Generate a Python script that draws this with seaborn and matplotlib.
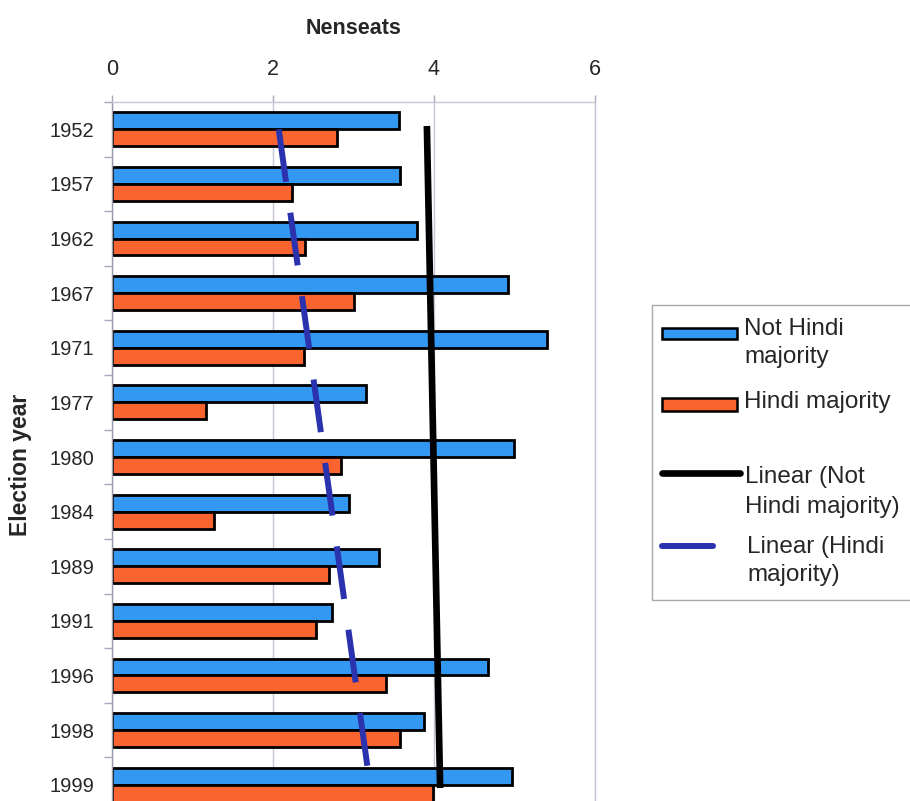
import numpy as np
import pandas as pd
import matplotlib
matplotlib.use("Agg")
import matplotlib.pyplot as plt
from matplotlib.patches import Rectangle
from matplotlib.lines import Line2D
import seaborn as sns

# Effective number of parties (seats) by election year
years = ["1952", "1957", "1962", "1967", "1971", "1977", "1980",
         "1984", "1989", "1991", "1996", "1998", "1999"]
not_hindi = [3.57, 3.58, 3.79, 4.92, 5.40, 3.16, 4.99,
             2.94, 3.32, 2.73, 4.67, 3.88, 4.97]
hindi = [2.79, 2.24, 2.40, 3.00, 2.39, 1.17, 2.84,
         1.27, 2.69, 2.53, 3.40, 3.58, 3.99]
series_names = ["Not Hindi majority", "Hindi majority"]
x_ticks = [0, 2, 4, 6]

BLUE = "#3398F2"
ORANGE = "#F9642F"
TREND_BLUE = "#2A32AE"
GRID = "#C6C6D6"

sns.set_style("white")
plt.rcParams["font.family"] = ["Liberation Sans", "DejaVu Sans"]

df = pd.DataFrame({
    "year": years * 2,
    "value": not_hindi + hindi,
    "group": [series_names[0]] * len(years) + [series_names[1]] * len(years),
})

W, H = 910, 801
fig = plt.figure(figsize=(W / 100, H / 100), dpi=100)
ax = fig.add_axes([112 / W, 1 - 812 / H, 483 / W, 710 / H])

sns.barplot(data=df, y="year", x="value", hue="group", order=years,
            hue_order=series_names, palette=[BLUE, ORANGE], orient="h",
            width=0.62, edgecolor="black", linewidth=2, saturation=1,
            legend=False, ax=ax, zorder=2)

# Linear trend lines over the category index
idx = np.arange(len(years))
fit_nh = np.polyval(np.polyfit(idx, not_hindi, 1), idx)
fit_h = np.polyval(np.polyfit(idx, hindi, 1), idx)
ax.plot(fit_nh, idx, color="black", lw=4.8, solid_capstyle="projecting", zorder=4)
ax.plot(fit_h, idx, color=TREND_BLUE, lw=4.3, dashes=(8.9, 5.2),
        dash_capstyle="butt", zorder=4)

# Axes styling
ax.set_xlim(0, 6)
ax.set_ylim(len(years) - 0.5, -0.5)
ax.xaxis.tick_top()
ax.xaxis.set_label_position("top")
ax.set_xticks(x_ticks)
ax.set_xticklabels([str(t) for t in x_ticks], fontsize=15.5)
ax.tick_params(axis="x", which="major", direction="out", length=5,
               width=1, color="#A8A8B8", pad=11)
ax.set_yticks(idx)
ax.set_yticklabels(years, fontsize=14.5)
ax.set_yticks(np.arange(-0.5, len(years), 1), minor=True)
ax.tick_params(axis="y", which="major", length=0, pad=13)
ax.tick_params(axis="y", which="minor", direction="out", length=6,
               width=1, color="#A8A8B8", left=True)
ax.grid(axis="x", color=GRID, lw=1, zorder=0)
ax.grid(axis="y", visible=False)
ax.set_axisbelow(True)

for side in ["top", "right"]:
    ax.spines[side].set_color(GRID)
    ax.spines[side].set_linewidth(1)
ax.spines["left"].set_color("#9A9AAA")
ax.spines["left"].set_linewidth(1)
ax.spines["bottom"].set_visible(False)

ax.set_xlabel("Nenseats", fontsize=15.5, fontweight="bold", labelpad=18)
ax.set_ylabel("Election year", fontsize=16.5, fontweight="bold")
ax.yaxis.set_label_coords(21 / W - 112 / W, 0, transform=fig.transFigure)
ax.yaxis.label.set_position((21 / W, 1 - 465 / H))
ax.yaxis.label.set_va("center")


# Legend panel, laid out in pixel coordinates from the top-left corner
def fx(x):
    return x / W


def fy(y):
    return 1 - y / H


fig.add_artist(Rectangle((fx(652), fy(600)), fx(915) - fx(652), fy(305) - fy(600),
                         transform=fig.transFigure, facecolor="white",
                         edgecolor="#A8A8B0", lw=1, zorder=5))
fig.add_artist(Rectangle((fx(662), fy(339)), fx(737) - fx(662), fy(328) - fy(339),
                         transform=fig.transFigure, facecolor=BLUE,
                         edgecolor="black", lw=1.8, zorder=6))
fig.add_artist(Rectangle((fx(662), fy(411)), fx(737) - fx(662), fy(398) - fy(411),
                         transform=fig.transFigure, facecolor=ORANGE,
                         edgecolor="black", lw=1.8, zorder=6))
fig.add_artist(Line2D([fx(662), fx(740)], [fy(473), fy(473)],
                      transform=fig.transFigure, color="black", lw=4.8, zorder=6))
fig.add_artist(Line2D([fx(662), fx(713)], [fy(546), fy(546)],
                      transform=fig.transFigure, color=TREND_BLUE, lw=4.3, zorder=6))

legend_fs = 17.5
fig.text(fx(744), fy(343), "Not Hindi\nmajority", fontsize=legend_fs,
         va="center", ha="left", linespacing=1.38, zorder=7)
fig.text(fx(744), fy(402), "Hindi majority", fontsize=legend_fs,
         va="center", ha="left", zorder=7)
fig.text(fx(745), fy(492), "Linear (Not\nHindi majority)", fontsize=legend_fs,
         va="center", ha="left", linespacing=1.42, zorder=7)
fig.text(fx(747), fy(561), "Linear (Hindi\nmajority)", fontsize=legend_fs,
         va="center", ha="left", linespacing=1.3, zorder=7)

fig.savefig("out.png", dpi=100)
